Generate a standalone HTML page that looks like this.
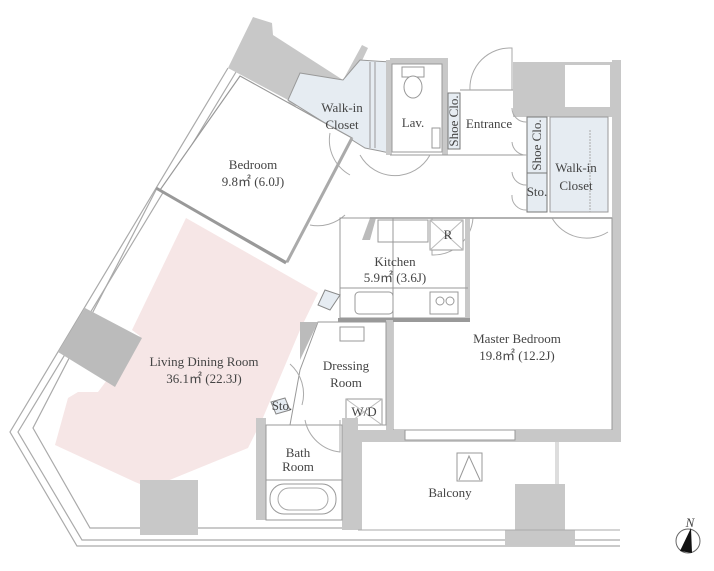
<!DOCTYPE html>
<html><head><meta charset="utf-8"><style>
html,body{margin:0;padding:0;background:#fff;width:714px;height:571px;overflow:hidden}
svg text{font-family:"Liberation Serif",serif;fill:#444;font-size:13px}
</style></head><body>
<svg width="714" height="571" viewBox="0 0 714 571" xmlns="http://www.w3.org/2000/svg">
<!-- living pink -->
<polygon points="186,218 318,293 300,330 262,420 248,448 150,488 135,482 55,445 68,398 78,392 98,392 140,336 132,330" fill="#f6e6e6"/>
<!-- exterior thin walls left -->
<g fill="none" stroke="#aaa" stroke-width="1.2">
<polyline points="228,68 10,432 77,546 620,546"/>
<polyline points="236,72 18,432 82,540 620,540"/>
<polyline points="157,188 33,428 90,528 358,528"/>
</g>
<!-- top-left gray block -->
<polygon points="253,17 272,23 273,35 343,80 362,45 368,48 350,86 290,108 288,100 228,68" fill="#c8c8c8"/>
<!-- left walk-in closet -->
<polygon points="300,73 343,80 360,60 390,62 390,153 365,148 288,100" fill="#e6ecf2" stroke="#999" stroke-width="1"/>
<line x1="370" y1="62" x2="370" y2="148" stroke="#999"/><line x1="375" y1="62" x2="375" y2="148" stroke="#999"/>
<!-- bedroom -->
<polygon points="240,76 352,138 287,262 160,190" fill="#fff" stroke="#999" stroke-width="1.2"/>
<line x1="156" y1="188" x2="286" y2="263" stroke="#999" stroke-width="3"/>
<line x1="352" y1="138" x2="287" y2="262" stroke="#aaa" stroke-width="3"/>
<!-- door arcs bedroom -->
<path d="M330,133 A40,40 0 0 0 350,175" fill="none" stroke="#aaa"/>
<path d="M310,225 A40,40 0 0 0 345,215" fill="none" stroke="#aaa"/>
<!-- gray pillar living -->
<polygon points="58,352 85,308 142,338 115,387" fill="#bbb"/>
<rect x="140" y="480" width="58" height="55" fill="#c8c8c8"/>
<!-- Lav and entrance walls -->
<rect x="390" y="58" width="58" height="6" fill="#c8c8c8"/>
<rect x="386" y="60" width="6" height="95" fill="#c8c8c8"/>
<rect x="442" y="60" width="6" height="95" fill="#c8c8c8"/>
<rect x="392" y="64" width="50" height="88" fill="#fff" stroke="#999"/>
<rect x="402" y="67" width="22" height="10" fill="#fff" stroke="#999"/>
<ellipse cx="413" cy="87" rx="9" ry="11" fill="#fff" stroke="#999"/>
<rect x="432" y="128" width="8" height="20" fill="#fff" stroke="#999"/>
<rect x="448" y="93" width="12" height="56" fill="#e6ecf2" stroke="#777"/>
<line x1="460" y1="90" x2="515" y2="90" stroke="#999"/>
<path d="M470,90 A40,40 0 0 1 512,48 L512,90" fill="none" stroke="#aaa"/>
<!-- top-right block -->
<rect x="513" y="62" width="100" height="55" fill="#c8c8c8"/>
<rect x="565" y="65" width="45" height="42" fill="#fff"/>
<rect x="612" y="60" width="9" height="382" fill="#c8c8c8"/>
<rect x="527" y="117" width="20" height="95" fill="#e6ecf2" stroke="#777"/>
<line x1="527" y1="173" x2="547" y2="173" stroke="#777"/>
<rect x="550" y="117" width="58" height="95" fill="#e6ecf2" stroke="#999"/>
<line x1="590" y1="130" x2="590" y2="212" stroke="#aaa" stroke-dasharray="2,1"/>
<!-- corridor lines -->
<line x1="390" y1="155" x2="525" y2="155" stroke="#999"/>
<line x1="370" y1="218" x2="612" y2="218" stroke="#999" stroke-width="1.5"/>
<path d="M360,155 A40,40 0 0 0 430,155" fill="none" stroke="#aaa"/>
<path d="M512,108 A14,14 0 0 0 527,122 M512,142 A14,14 0 0 0 527,155 M512,172 A14,14 0 0 0 527,185 M512,195 A14,14 0 0 0 527,210" fill="none" stroke="#aaa"/>
<path d="M473,218 A40,40 0 0 1 432,255 L432,218" fill="none" stroke="#aaa"/>
<path d="M552,218 A40,40 0 0 0 608,232" fill="none" stroke="#aaa"/>
<!-- kitchen -->
<polygon points="370,218 376,218 370,240 362,240" fill="#bbb"/>
<rect x="340" y="218" width="128" height="100" fill="none" stroke="#999"/>
<rect x="465" y="218" width="5" height="100" fill="#c8c8c8"/>
<rect x="378" y="220" width="50" height="22" fill="#fff" stroke="#999"/>
<rect x="430" y="220" width="33" height="30" fill="#fff" stroke="#999"/>
<line x1="430" y1="220" x2="463" y2="250" stroke="#bbb"/><line x1="463" y1="220" x2="430" y2="250" stroke="#bbb"/>
<line x1="340" y1="288" x2="468" y2="288" stroke="#999"/>
<rect x="355" y="292" width="38" height="22" rx="4" fill="#fff" stroke="#999"/>
<rect x="430" y="292" width="28" height="22" fill="#fff" stroke="#999"/>
<circle cx="440" cy="301" r="4" fill="none" stroke="#999"/><circle cx="450" cy="301" r="4" fill="none" stroke="#999"/>
<rect x="338" y="318" width="132" height="4" fill="#999"/>
<polygon points="325,290 340,295 330,310 318,305" fill="#e6ecf2" stroke="#888"/>
<!-- master bedroom -->
<rect x="393" y="218" width="219" height="212" fill="none" stroke="#999"/>
<rect x="386" y="320" width="7" height="122" fill="#c8c8c8"/>
<rect x="358" y="430" width="263" height="12" fill="#c8c8c8"/>
<rect x="405" y="430" width="110" height="10" fill="#fff" stroke="#999"/>
<!-- dressing -->
<polygon points="318,322 386,322 386,425 345,425 345,505 262,505 262,425 290,425 300,370" fill="#fff" stroke="#999"/>
<polygon points="318,322 300,360 300,322" fill="#bbb"/>
<rect x="340" y="327" width="24" height="14" fill="#fff" stroke="#999"/>
<rect x="346" y="399" width="36" height="26" fill="#fff" stroke="#999"/>
<line x1="346" y1="399" x2="382" y2="425" stroke="#bbb"/><line x1="382" y1="399" x2="346" y2="425" stroke="#bbb"/>
<path d="M290,364 A40,40 0 0 1 302,405" fill="none" stroke="#aaa"/>
<polygon points="271,402 285,398 290,410 276,414" fill="#e6ecf2" stroke="#888"/>
<!-- bath -->
<rect x="256" y="418" width="10" height="102" fill="#c8c8c8"/>
<rect x="342" y="418" width="16" height="112" fill="#c8c8c8"/>
<rect x="266" y="425" width="76" height="95" fill="#fff" stroke="#999"/>
<path d="M305,420 A40,40 0 0 0 340,452 L340,420" fill="none" stroke="#aaa"/>
<line x1="266" y1="480" x2="342" y2="480" stroke="#999"/>
<rect x="270" y="484" width="66" height="30" rx="14" fill="#fff" stroke="#999"/>
<rect x="278" y="488" width="50" height="22" rx="11" fill="none" stroke="#aaa"/>
<!-- balcony -->
<rect x="358" y="442" width="4" height="88" fill="#c8c8c8"/>
<rect x="555" y="442" width="4" height="42" fill="#ddd"/>
<polygon points="515,484 565,484 565,530 575,530 575,546 505,546 505,530 515,530" fill="#c8c8c8"/>
<rect x="457" y="453" width="25" height="28" fill="#fff" stroke="#999"/>
<polyline points="459,480 469,456 480,480" fill="none" stroke="#999"/>
<line x1="358" y1="530" x2="620" y2="530" stroke="#aaa"/>
<!-- labels -->
<text x="342" y="112" text-anchor="middle">Walk-in</text>
<text x="342" y="129" text-anchor="middle">Closet</text>
<text x="413" y="127" text-anchor="middle">Lav.</text>
<text transform="translate(458,121) rotate(-90)" text-anchor="middle" font-size="12">Shoe Clo.</text>
<text x="489" y="128" text-anchor="middle">Entrance</text>
<text transform="translate(541,145) rotate(-90)" text-anchor="middle" font-size="12">Shoe Clo.</text>
<text x="537" y="196" text-anchor="middle" font-size="10">Sto.</text>
<text x="576" y="172" text-anchor="middle">Walk-in</text>
<text x="576" y="190" text-anchor="middle">Closet</text>
<text x="253" y="169" text-anchor="middle">Bedroom</text>
<text x="253" y="186" text-anchor="middle">9.8㎡ (6.0J)</text>
<text x="448" y="239" text-anchor="middle">R</text>
<text x="395" y="266" text-anchor="middle">Kitchen</text>
<text x="395" y="282" text-anchor="middle">5.9㎡ (3.6J)</text>
<text x="517" y="343" text-anchor="middle">Master Bedroom</text>
<text x="517" y="360" text-anchor="middle">19.8㎡ (12.2J)</text>
<text x="204" y="366" text-anchor="middle">Living Dining Room</text>
<text x="204" y="383" text-anchor="middle">36.1㎡ (22.3J)</text>
<text x="346" y="370" text-anchor="middle">Dressing</text>
<text x="346" y="387" text-anchor="middle">Room</text>
<text x="364" y="416" text-anchor="middle" font-size="12">W/D</text>
<text x="282" y="410" text-anchor="middle" font-size="9">Sto.</text>
<text x="298" y="457" text-anchor="middle">Bath</text>
<text x="298" y="471" text-anchor="middle">Room</text>
<text x="450" y="497" text-anchor="middle">Balcony</text>
<!-- compass -->
<circle cx="688" cy="541" r="12" fill="none" stroke="#666"/>
<polygon points="691,528 680,551 692,553" fill="#111"/>
<text x="690" y="527" text-anchor="middle" font-size="8" font-style="italic">N</text>
</svg>
</body></html>
